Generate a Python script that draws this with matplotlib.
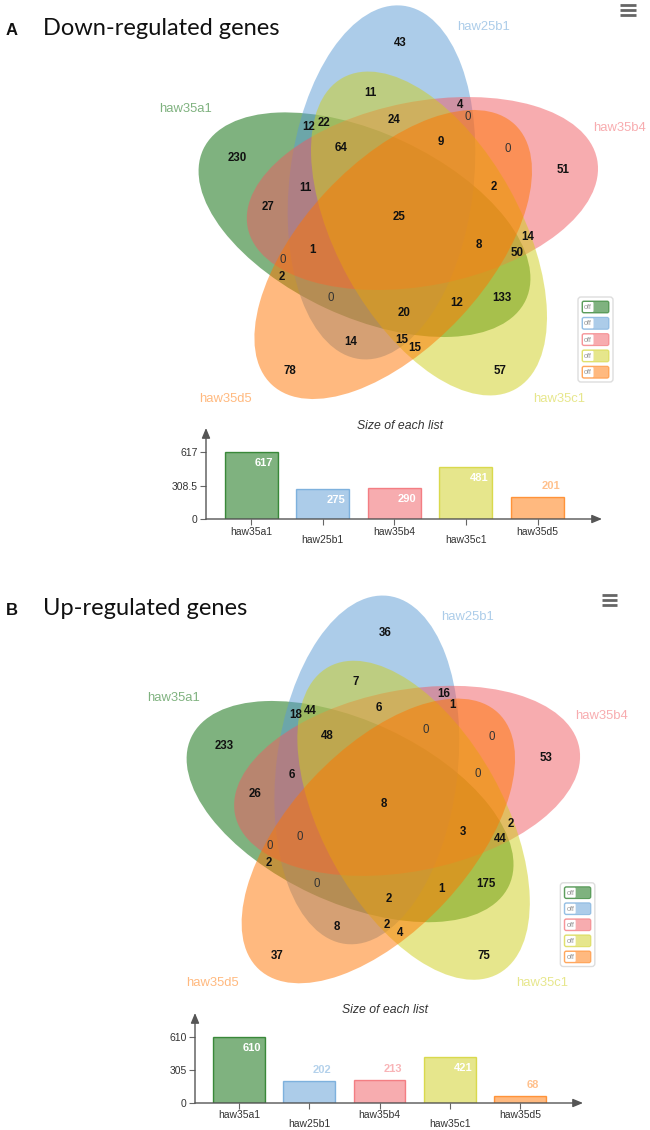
import numpy as np
import matplotlib.pyplot as plt
from matplotlib.patches import Ellipse, FancyBboxPatch
from matplotlib.colors import to_rgba

W, H = 650, 1130
plt.rcParams['font.family'] = ['Liberation Sans', 'DejaVu Sans']

### DATA ###
set_names = ['haw35a1', 'haw25b1', 'haw35b4', 'haw35c1', 'haw35d5']
set_colors = ['#006600', '#5a9bd4', '#f15a60', '#cfcf1b', '#ff7500']

down_sizes = [617, 275, 290, 481, 201]
up_sizes = [610, 202, 213, 421, 68]

# region counts, same region order in both diagrams
down_counts = [43, 11, 4, 0, 12, 22, 24, 0, 64, 9, 230, 51, 11, 2, 27, 25,
               14, 8, 50, 1, 0, 2, 0, 133, 12, 20, 14, 15, 15, 78, 57]
up_counts = [36, 7, 16, 1, 18, 44, 6, 0, 48, 0, 233, 53, 6, 0, 26, 8,
             2, 3, 44, 0, 0, 2, 0, 175, 1, 2, 8, 2, 4, 37, 75]

### LAYOUT (pixels, relative to diagram centre) ###
region_xy = [(-2, -174), (-32, -124), (58, -112), (66, -100), (-93, -90), (-78, -94),
             (-8, -97), (106, -68), (-61, -69), (39, -75), (-165, -59), (161, -47),
             (-97, -29), (92, -30), (-134, -10), (-3, 0), (126, 20), (77, 28),
             (115, 36), (-89, 33), (-119, 43), (-120, 60), (-71, 81), (100, 81),
             (55, 86), (2, 96), (-51, 125), (0, 123), (13, 131), (-112, 154), (98, 154)]
name_xy = [(-217, -108), (82, -190), (218, -89), (157, 182), (-177, 182)]
ell_xy = [(-37.5, 7.7), (-20.5, -34.6), (20.4, -23.5), (27, 16.5), (-8.8, 37.5)]
axis_angle = [155, 83, 11, 299, 227]   # ellipse major axis direction, degrees
semi_a, semi_b = 178, 92


fig = plt.figure(figsize=(W / 100, H / 100), dpi=100)
ax0 = fig.add_axes([0, 0, 1, 1])
ax0.set_xlim(0, W)
ax0.set_ylim(H, 0)
ax0.axis('off')


def venn(origin, s, counts):
    ox, oy = origin
    P = lambda x, y: (ox + s * x, oy + s * y)
    for i, c in enumerate(set_colors):
        ax0.add_patch(Ellipse(P(*ell_xy[i]), 2 * semi_a * s, 2 * semi_b * s,
                              angle=-axis_angle[i], facecolor=to_rgba(c, 0.5),
                              edgecolor='none'))
    for (x, y), n in zip(region_xy, counts):
        ax0.text(*P(x, y), str(n), ha='center', va='center', fontsize=8.3,
                 fontweight='bold' if n > 0 else 'normal',
                 color='#111111' if n > 0 else '#333333')
    for (x, y), name, c in zip(name_xy, set_names, set_colors):
        ax0.text(*P(x, y), name, ha='center', va='center', fontsize=9.4,
                 color=to_rgba(c, 0.5))
    # toggle box
    bx, by = P(176, 80)
    ax0.add_patch(FancyBboxPatch((bx, by), 35 * s, 85 * s,
                                 boxstyle='round,pad=0,rounding_size=3',
                                 facecolor='white', edgecolor='#dddddd', lw=1))
    for i, c in enumerate(set_colors):
        sx, sy = P(180, 84 + 16.3 * i)
        ax0.add_patch(FancyBboxPatch((sx, sy), 27 * s, 12 * s,
                                     boxstyle='round,pad=0,rounding_size=2',
                                     facecolor=to_rgba(c, 0.5), edgecolor=to_rgba(c, 0.5),
                                     lw=0.8))
        ax0.add_patch(FancyBboxPatch((sx + 1, sy + 1), 10.5 * s, 10 * s,
                                     boxstyle='round,pad=0,rounding_size=1',
                                     facecolor='white', edgecolor='none'))
        ax0.text(sx + 6 * s, sy + 6.5 * s, 'off', ha='center', va='center',
                 fontsize=5.2, color='#999999')
    # menu icon
    for dy in (-212, -207, -202):
        x1, y1 = P(218, dy)
        x2, _ = P(234, dy)
        ax0.plot([x1, x2], [y1, y1], color='#666666', lw=2, solid_capstyle='butt')
    ax0.text(*P(-2, 209), 'Size of each list', ha='center', va='center',
             fontsize=8.8, style='italic', color='#333333')


def bars(rect, sizes):
    l, t, r, b = rect
    ax = fig.add_axes([l / W, 1 - b / H, (r - l) / W, (b - t) / H])
    ax.patch.set_alpha(0)
    x = np.arange(len(sizes))
    top = max(sizes)
    ax.bar(x, sizes, width=0.74, color=[to_rgba(c, 0.5) for c in set_colors],
           edgecolor=[to_rgba(c, 0.7) for c in set_colors], linewidth=1)
    ax.set_xlim(-0.63, 4.9)
    ax.set_ylim(0, top * 1.36)
    ticks = [0, top / 2, top]
    ax.set_yticks(ticks, [f'{v:g}' for v in ticks])
    ax.set_xticks(x, [''] * len(x))
    ax.tick_params(length=4, width=0.8, color='#666666', labelsize=7.5,
                   labelcolor='#333333', pad=2)
    for sp in ax.spines.values():
        sp.set_visible(False)
    arrow = dict(arrowstyle='-|>,head_length=0.6,head_width=0.25', color='#555555',
                 lw=1, shrinkA=0, shrinkB=0)
    ax.annotate('', xy=(1, 0), xytext=(0, 0), xycoords='axes fraction',
                textcoords='axes fraction', arrowprops=arrow, annotation_clip=False)
    ax.annotate('', xy=(0, 1), xytext=(0, 0), xycoords='axes fraction',
                textcoords='axes fraction', arrowprops=arrow, annotation_clip=False)
    for i, name in enumerate(set_names):
        ax.annotate(name, xy=(i, 0), xytext=(0, -9 if i % 2 == 0 else -15.2),
                    textcoords='offset points', ha='center', va='center',
                    fontsize=7.5, color='#333333', annotation_clip=False)
    for i, v in enumerate(sizes):
        if v > 0.4 * top:
            ax.annotate(str(v), xy=(i, v), xytext=(9.4, -8), textcoords='offset points',
                        ha='center', va='center', fontsize=8, fontweight='bold',
                        color='white')
        else:
            ax.annotate(str(v), xy=(i, v), xytext=(9.4, 8), textcoords='offset points',
                        ha='center', va='center', fontsize=8, fontweight='bold',
                        color=to_rgba(set_colors[i], 0.45))


venn((402, 217), 1.0, down_counts)
venn((387, 804), 0.985, up_counts)
bars((206, 428, 602, 519), down_sizes)
bars((195, 1013, 583, 1103), up_sizes)

ax0.text(6, 35, 'A', fontsize=12, fontweight='bold', color='#111111', va='baseline')
ax0.text(43, 35, 'Down-regulated genes', fontsize=17, family='Lato', color='#111111',
         va='baseline')
ax0.text(6, 615, 'B', fontsize=12, fontweight='bold', color='#111111', va='baseline')
ax0.text(43, 615, 'Up-regulated genes', fontsize=17, family='Lato', color='#111111',
         va='baseline')

fig.savefig('out.png', dpi=100)
